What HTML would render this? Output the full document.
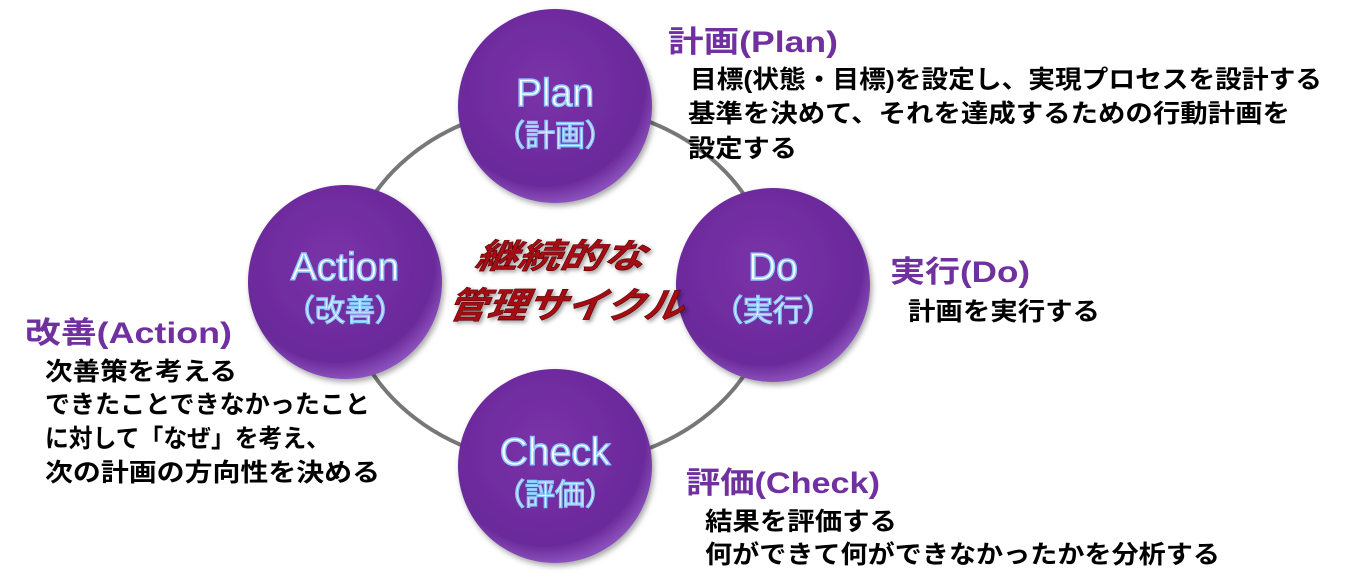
<!DOCTYPE html>
<html><head><meta charset="utf-8"><style>
html,body{margin:0;padding:0;background:#fff;}
svg{display:block;}
text{font-family:"Liberation Sans","Noto Sans CJK JP",sans-serif;}
</style></head><body>
<svg width="1347" height="586" viewBox="0 0 1347 586" xmlns="http://www.w3.org/2000/svg">
<defs>
<radialGradient id="g" cx="45%" cy="40%" r="60%">
<stop offset="0" stop-color="#7a32a8"/><stop offset="0.85" stop-color="#6a2a9a"/><stop offset="1" stop-color="#8a50bb"/>
</radialGradient>
<filter id="sh" x="-20%" y="-20%" width="140%" height="140%"><feDropShadow dx="2" dy="3" stdDeviation="3" flood-color="#000" flood-opacity="0.35"/></filter>
</defs>
<ellipse cx="559" cy="285" rx="214" ry="180" fill="none" stroke="#777" stroke-width="4"/>
<g filter="url(#sh)">
<circle cx="555" cy="106" r="97" fill="url(#g)"/>
<circle cx="773" cy="285" r="97" fill="url(#g)"/>
<circle cx="345" cy="282" r="97" fill="url(#g)"/>
<circle cx="555" cy="466" r="97" fill="url(#g)"/>
</g>
<g fill="#fff" stroke="#8ec8ff" stroke-width="1.5" text-anchor="middle">
<text x="555" y="106" font-size="39">Plan</text>
<text x="555" y="146" font-size="30">（計画）</text>
<text x="773" y="280" font-size="39">Do</text>
<text x="773" y="321" font-size="30">（実行）</text>
<text x="345" y="280" font-size="39">Action</text>
<text x="345" y="321" font-size="30">（改善）</text>
<text x="555" y="465" font-size="39">Check</text>
<text x="555" y="505" font-size="30">（評価）</text>
</g>
<g font-weight="bold" font-style="italic" fill="#a50c14" stroke="#5a0000" stroke-width="0.6" style="filter:drop-shadow(2px 2px 2px rgba(0,0,0,0.4))">
<text x="474" y="268" font-size="34" textLength="170" lengthAdjust="spacingAndGlyphs" transform="skewX(-10) translate(47,0)">継続的な</text>
<text x="446" y="318" font-size="36" textLength="236" lengthAdjust="spacingAndGlyphs" transform="skewX(-10) translate(56,0)">管理サイクル</text>
</g>
<g fill="#7030a0" font-size="30" font-weight="bold">
<text x="668" y="52" textLength="170" lengthAdjust="spacingAndGlyphs">計画(Plan)</text>
<text x="890" y="282" textLength="140" lengthAdjust="spacingAndGlyphs">実行(Do)</text>
<text x="25" y="343" textLength="207" lengthAdjust="spacingAndGlyphs">改善(Action)</text>
<text x="686" y="493" textLength="194" lengthAdjust="spacingAndGlyphs">評価(Check)</text>
</g>
<g fill="#000" font-size="25" font-weight="bold">
<text x="690" y="88" textLength="632" lengthAdjust="spacingAndGlyphs">目標(状態・目標)を設定し、実現プロセスを設計する</text>
<text x="688" y="122" textLength="602" lengthAdjust="spacingAndGlyphs">基準を決めて、それを達成するための行動計画を</text>
<text x="688" y="157" textLength="109" lengthAdjust="spacingAndGlyphs">設定する</text>
<text x="908" y="320" textLength="192" lengthAdjust="spacingAndGlyphs">計画を実行する</text>
<text x="45" y="380" textLength="192" lengthAdjust="spacingAndGlyphs">次善策を考える</text>
<text x="45" y="413" textLength="325" lengthAdjust="spacingAndGlyphs">できたことできなかったこと</text>
<text x="45" y="447" textLength="285" lengthAdjust="spacingAndGlyphs">に対して「なぜ」を考え、</text>
<text x="45" y="481" textLength="335" lengthAdjust="spacingAndGlyphs">次の計画の方向性を決める</text>
<text x="705" y="530" textLength="192" lengthAdjust="spacingAndGlyphs">結果を評価する</text>
<text x="705" y="563" textLength="515" lengthAdjust="spacingAndGlyphs">何ができて何ができなかったかを分析する</text>
</g>
</svg>
</body></html>
